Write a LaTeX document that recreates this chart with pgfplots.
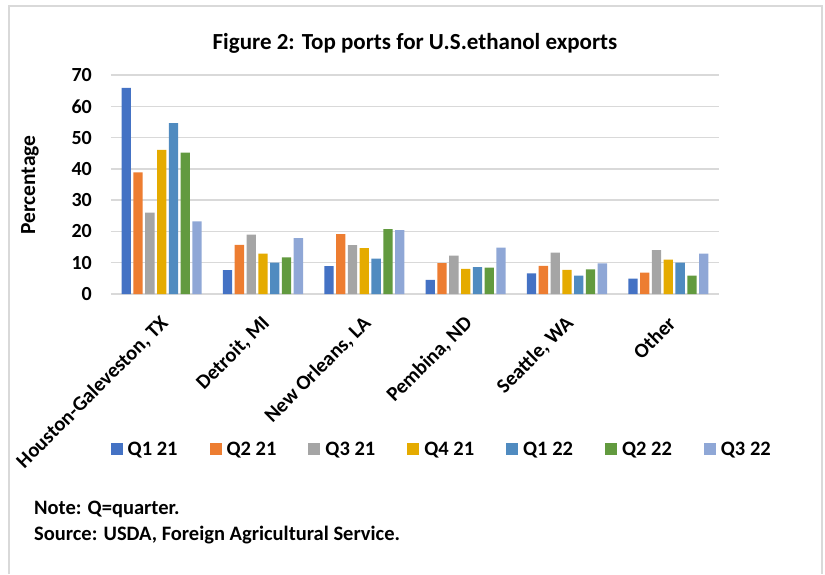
\documentclass[border=0pt]{standalone}
\usepackage{pgfplots}
\pgfplotsset{compat=1.18}
\usepackage{fontspec}
\setmainfont{Carlito}
\definecolor{c1}{HTML}{4472C4}
\definecolor{c2}{HTML}{ED7D31}
\definecolor{c3}{HTML}{A5A5A5}
\definecolor{c4}{HTML}{E5AB00}
\definecolor{c5}{HTML}{508BC0}
\definecolor{c6}{HTML}{629A3F}
\definecolor{c7}{HTML}{8FA7D6}
\definecolor{gridgray}{HTML}{D9D9D9}
\pgfplotsset{sq/.style={legend image code/.code={\fill[##1] (0pt,-6pt) rectangle (12pt,6pt);}}}
\begin{document}
\begin{tikzpicture}[x=1pt,y=1pt]
\useasboundingbox (0,0) rectangle (825,574);
\draw[line width=1.5pt, color=gridgray] (9,0) -- (9,568) -- (822,568) -- (822,0);
\node[font=\fontsize{23}{26}\selectfont\bfseries] at (415,531) {Figure 2: Top ports for U.S.ethanol exports};
\node[font=\fontsize{21.5}{24}\selectfont\bfseries, rotate=90] at (30,389) {Percentage};
\node[font=\fontsize{20.5}{24}\selectfont\bfseries, anchor=west, inner sep=0pt] at (34,65) {Note: Q=quarter.};
\node[font=\fontsize{20.5}{24}\selectfont\bfseries, anchor=west, inner sep=0pt] at (34,39) {Source: USDA, Foreign Agricultural Service.};
\begin{axis}[
  at={(111pt,280pt)}, anchor=south west,
  width=608pt, height=219pt, scale only axis,
  ybar=2.5pt, bar width=9.3pt,
  xmin=-0.5, xmax=5.5, ymin=0, ymax=70,
  ytick={0,10,...,70}, xtick={0,...,5},
  xticklabels={{Houston-Galeveston, TX}, {Detroit, MI}, {New Orleans, LA}, {Pembina, ND}, {Seattle, WA}, Other},
  axis line style={draw=none},
  major tick length=0pt,
  ymajorgrids, grid style={line width=1.5pt, draw=gridgray},
  /pgf/number format/assume math mode=true,
  yticklabel style={font=\fontsize{20}{22}\selectfont\bfseries, anchor=east, inner sep=0pt, xshift=-19pt},
  xticklabel style={font=\fontsize{20.5}{22}\selectfont\bfseries, rotate=45, anchor=east, inner sep=0pt, xshift=-16pt, yshift=-21pt},
  legend columns=7,
  legend style={draw=none, fill=none, at={(rel axis cs:0.544,-0.708)}, anchor=center,
    font=\fontsize{20.5}{24}\selectfont\bfseries,
    /tikz/every odd column/.append style={column sep=3pt},
    /tikz/every even column/.append style={column sep=30pt}},
]
\addplot[fill=c1, draw=none, sq] coordinates {(0,65.9) (1,7.6) (2,8.9) (3,4.5) (4,6.6) (5,4.9)};
\addplot[fill=c2, draw=none, sq] coordinates {(0,38.9) (1,15.7) (2,19.1) (3,9.9) (4,9.0) (5,6.8)};
\addplot[fill=c3, draw=none, sq] coordinates {(0,26.0) (1,19.0) (2,15.6) (3,12.3) (4,13.2) (5,14.0)};
\addplot[fill=c4, draw=none, sq] coordinates {(0,46.1) (1,12.9) (2,14.7) (3,8.0) (4,7.7) (5,11.0)};
\addplot[fill=c5, draw=none, sq] coordinates {(0,54.6) (1,10.0) (2,11.3) (3,8.6) (4,5.9) (5,10.0)};
\addplot[fill=c6, draw=none, sq] coordinates {(0,45.2) (1,11.7) (2,20.7) (3,8.4) (4,7.9) (5,5.9)};
\addplot[fill=c7, draw=none, sq] coordinates {(0,23.2) (1,17.9) (2,20.4) (3,14.8) (4,9.8) (5,12.9)};
\legend{Q1 21, Q2 21, Q3 21, Q4 21, Q1 22, Q2 22, Q3 22}
\end{axis}
\end{tikzpicture}
\end{document}
